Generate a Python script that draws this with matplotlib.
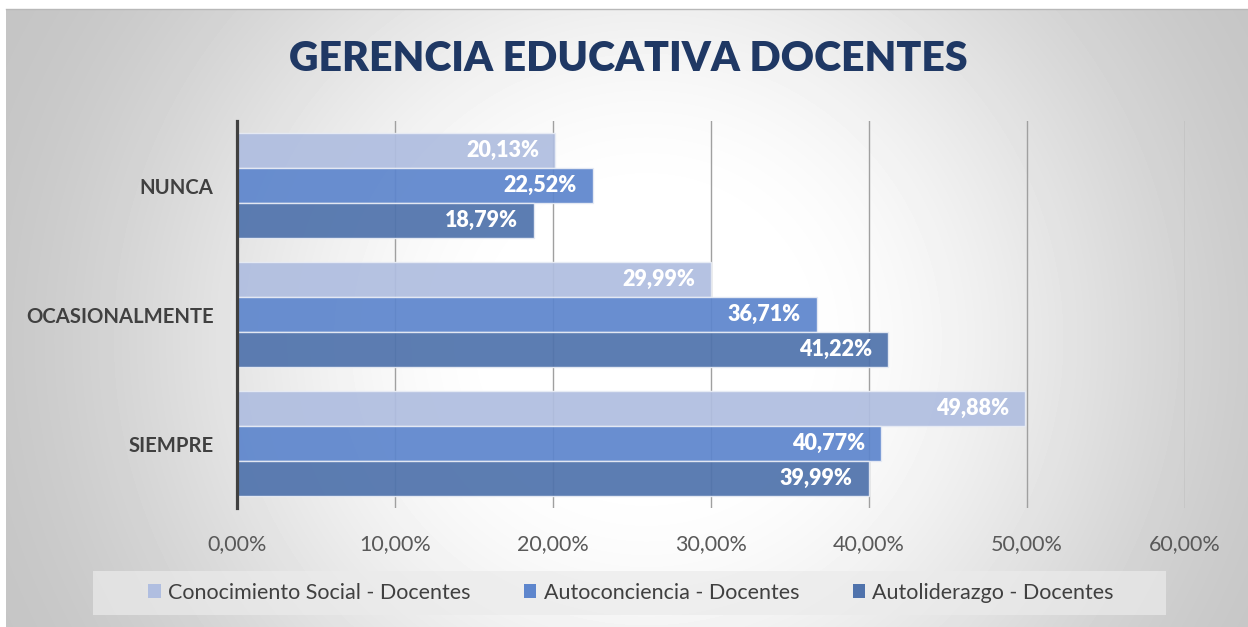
import numpy as np
import matplotlib
matplotlib.use("Agg")
import matplotlib.pyplot as plt
from matplotlib.patches import Rectangle

plt.rcParams['font.family'] = ['Lato', 'DejaVu Sans']

# data
categories = ["NUNCA", "OCASIONALMENTE", "SIEMPRE"]
series_names = ["Conocimiento Social - Docentes", "Autoconciencia - Docentes",
                "Autoliderazgo - Docentes"]
conocimiento = [20.13, 29.99, 49.88]
autoconciencia = [22.52, 36.71, 40.77]
autoliderazgo = [18.79, 41.22, 39.99]
xticks = [0, 10, 20, 30, 40, 50, 60]

colors = ["#B0BEE0", "#5E86CD", "#5073AC"]

W, H = 1248, 627
fig = plt.figure(figsize=(W / 100, H / 100), dpi=100)
fig.patch.set_facecolor("white")

# radial-ish gray gradient background (chart area)
bg = fig.add_axes([6 / W, 0, 1 - 6 / W, 1 - 9 / H], zorder=-10)
xx, yy = np.meshgrid(np.arange(W - 6), np.arange(H - 9))
dx = (xx - 640) / 620.0
dy = (yy - 330) / 600.0
d = np.sqrt(dx ** 2 + dy ** 2)
t = np.clip((d - 0.2) / 1.0, 0, 1)
s = t * t * (3 - 2 * t)
v = 1 - 0.23 * s
bg.imshow(v, cmap="gray", vmin=0, vmax=1, aspect="auto", interpolation="bilinear")
bg.axis("off")
fig.add_artist(plt.Line2D([6 / W, 1], [1 - 9 / H, 1 - 9 / H], color="#B8B8B8", lw=1))

ax = fig.add_axes([237 / W, 1 - 508 / H, (1185 - 237) / W, (508 - 121) / H])
ax.patch.set_alpha(0)

y = np.arange(len(categories))
h = 0.2736
all_series = [conocimiento, autoconciencia, autoliderazgo]
for i, (vals, col) in enumerate(zip(all_series, colors)):
    pos = y + (i - 1) * h
    ax.barh(pos, vals, height=h, color=col, alpha=0.93,
            edgecolor="#E8ECF5", linewidth=1, zorder=3, label=series_names[i])
    for yi, val in zip(pos, vals):
        ax.annotate(f"{val:.2f}%".replace(".", ","), xy=(val, yi),
                    xytext=(-16, 0), textcoords="offset pixels",
                    ha="right", va="center", color="white",
                    fontsize=15.5, fontweight="heavy", zorder=5)

ax.set_xlim(0, 60)
ax.set_ylim(2.5, -0.5)
ax.set_xticks(xticks)
ax.set_xticklabels([f"{x:.2f}%".replace(".", ",") for x in xticks],
                   fontsize=15.5, color="#595959")
ax.set_yticks(y)
ax.set_yticklabels(categories, fontsize=14.6, fontweight="bold", color="#404040")
ax.tick_params(axis="x", length=0, pad=19)
ax.tick_params(axis="y", length=0, pad=17)
ax.grid(axis="x", color="#A0A0A0", linewidth=1, zorder=0)
ax.set_axisbelow(True)
for sp in ["top", "right", "bottom"]:
    ax.spines[sp].set_visible(False)
ax.spines["left"].set_color("#404040")
ax.spines["left"].set_linewidth(2.3)
ax.spines["left"].set_zorder(4)

fig.text(628 / W, 1 - 59 / H, "GERENCIA EDUCATIVA DOCENTES", ha="center", va="center",
         fontsize=29.5, fontweight="heavy", color="#1F3864")

# legend box
fig.add_artist(Rectangle((93 / W, 1 - 615 / H), (1166 - 93) / W, 44 / H,
                         transform=fig.transFigure, facecolor="#EBEBEB", alpha=0.7,
                         edgecolor="none", zorder=1))
handles, labels = ax.get_legend_handles_labels()
leg = fig.legend(handles, labels, loc="center", bbox_to_anchor=(631 / W, 1 - 593 / H),
                 ncol=3, frameon=False, fontsize=15.5, handlelength=0.58,
                 handleheight=0.62, handletextpad=0.33, columnspacing=2.5,
                 labelcolor="#404040")
for hnd in leg.legend_handles:
    hnd.set_alpha(1)
    hnd.set_edgecolor("none")

fig.savefig("out.png", dpi=100)
